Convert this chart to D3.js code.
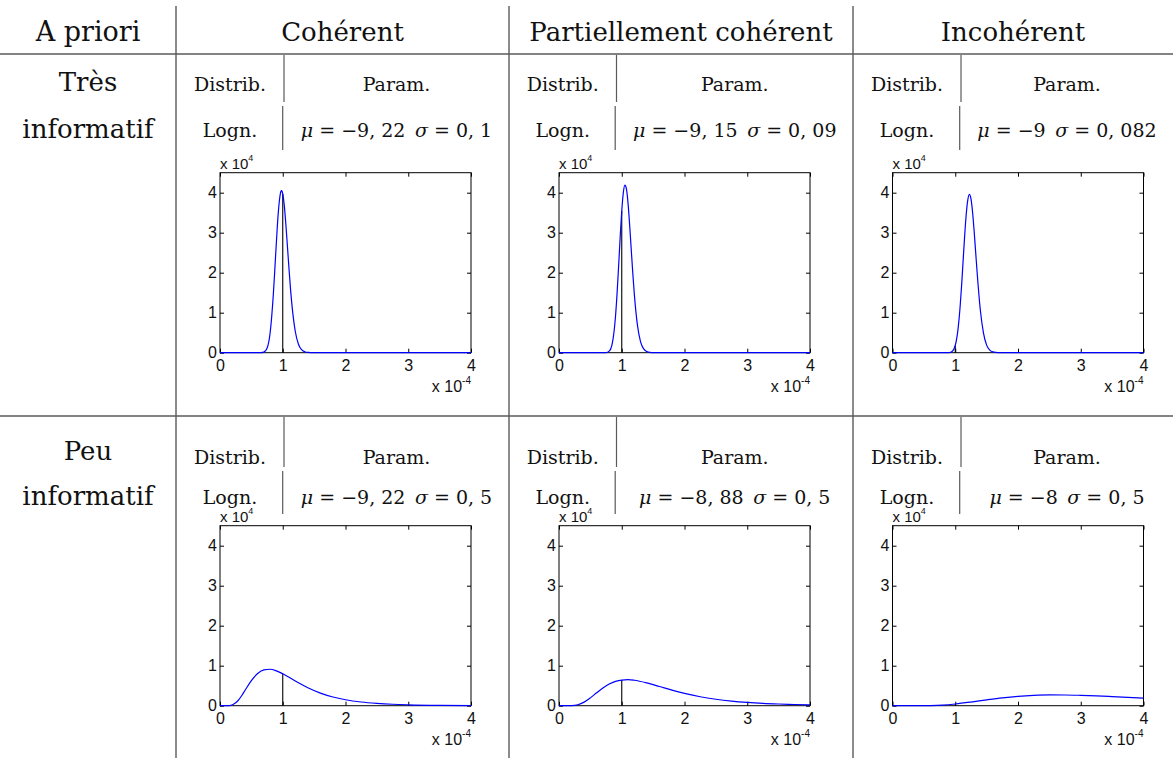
<!DOCTYPE html>
<html>
<head>
<meta charset="utf-8">
<script src="https://cdnjs.cloudflare.com/ajax/libs/d3/7.8.5/d3.min.js"></script>
<style>
	body { margin: 0; background: #fff; }
	svg { display: block; }
	.serif { font-family: "DejaVu Serif", serif; fill: #111; }
	.tick text { font-family: "Liberation Sans", Arial, sans-serif; font-size: 16px; fill: #111; }
</style>
</head>
<body>
<svg id="chart" width="1173" height="758"></svg>
<script>
// table texts
var cornerTitle = "A priori";
var colTitles = ["Cohérent", "Partiellement cohérent", "Incohérent"];
var rowTitles = [["Très", "informatif"], ["Peu", "informatif"]];
var distribLabel = "Logn.";
var muVals = [[-9.22, -9.15, -9], [-9.22, -8.88, -8]];
var sigmaVals = [[0.1, 0.09, 0.082], [0.5, 0.5, 0.5]];

// axes: x in units of 1e-4, density in units of 1e4
var xTicks = [0, 1, 2, 3, 4];
var yTicks = [0, 1, 2, 3, 4];
var trueX = 1;
var trueHeights = [[3.97, 3.54, 0.18], [0.80, 0.64, 0.04]];

// density curves [x, y]
var curveTresCoh = [[0,0],[0.6,0],[0.65,0.001],[0.7,0.014],[0.75,0.11],[0.8,0.51],[0.85,1.46],[0.875,2.12],[0.9,2.80],[0.925,3.42],[0.95,3.85],[0.97,4.03],[0.98,4.05],[0.99,4.03],[1.0,3.97],[1.025,3.67],[1.05,3.20],[1.075,2.65],[1.1,2.09],[1.125,1.57],[1.15,1.14],[1.2,0.53],[1.25,0.21],[1.3,0.076],[1.35,0.024],[1.4,0.007],[1.5,0],[4,0]];
var curveTresPart = [[0,0],[0.7,0],[0.75,0.003],[0.8,0.039],[0.85,0.24],[0.9,0.90],[0.925,1.47],[0.95,2.16],[0.975,2.89],[1.0,3.54],[1.025,4.00],[1.05,4.19],[1.075,4.09],[1.1,3.74],[1.125,3.21],[1.15,2.61],[1.175,2.01],[1.2,1.47],[1.25,0.69],[1.3,0.27],[1.35,0.095],[1.4,0.029],[1.45,0.008],[1.5,0.002],[1.6,0],[4,0]];
var curveTresInc = [[0,0],[0.85,0],[0.9,0.003],[0.95,0.032],[1.0,0.18],[1.05,0.67],[1.075,1.10],[1.1,1.65],[1.125,2.29],[1.15,2.92],[1.175,3.46],[1.2,3.82],[1.225,3.96],[1.25,3.85],[1.275,3.53],[1.3,3.06],[1.325,2.52],[1.35,1.98],[1.4,1.06],[1.45,0.49],[1.5,0.19],[1.55,0.066],[1.6,0.020],[1.65,0.006],[1.7,0.001],[1.8,0],[4,0]];
var curvePeuCoh = [[0,0],[0.05,0],[0.1,0.0002],[0.15,0.004],[0.2,0.024],[0.25,0.072],[0.3,0.153],[0.35,0.262],[0.4,0.385],[0.5,0.627],[0.6,0.805],[0.7,0.896],[0.8,0.911],[0.9,0.870],[1.0,0.798],[1.2,0.618],[1.4,0.449],[1.6,0.315],[1.8,0.217],[2.0,0.149],[2.25,0.092],[2.5,0.058],[2.75,0.036],[3.0,0.023],[3.5,0.009],[4.0,0.004]];
var curvePeuPart = [[0,0],[0.1,0],[0.2,0.002],[0.3,0.024],[0.4,0.089],[0.5,0.196],[0.6,0.323],[0.7,0.444],[0.8,0.541],[0.9,0.607],[1.0,0.641],[1.1,0.650],[1.2,0.636],[1.4,0.570],[1.6,0.480],[1.8,0.388],[2.0,0.307],[2.25,0.223],[2.5,0.161],[2.75,0.115],[3.0,0.082],[3.25,0.058],[3.5,0.042],[3.75,0.030],[4.0,0.021]];
var curvePeuInc = [[0,0],[0.2,0],[0.4,0.0002],[0.6,0.004],[0.8,0.016],[1.0,0.043],[1.25,0.091],[1.5,0.146],[1.75,0.196],[2.0,0.234],[2.25,0.258],[2.5,0.269],[2.75,0.268],[3.0,0.259],[3.25,0.245],[3.5,0.227],[3.75,0.208],[4.0,0.188]];

var curves = [[curveTresCoh, curveTresPart, curveTresInc], [curvePeuCoh, curvePeuPart, curvePeuInc]];

// layout
var W = 1173, H = 758;
var colLines = [176, 509, 853];
var subLines = [284, 616.5, 961];
var plotLeft = [220, 559, 892.5];
var plotW = 251, plotH = 180;
var headerRule = 54, rowRule = 416;
var lineColor = "#5a5a5a";
var sansFont = "'Liberation Sans', Arial, sans-serif";
var rows = [
	{ title1: 91, title2: 138, sub1: 91, sub2: 137, segA: [55, 102], segB: [106, 150], plotTop: 172.7 },
	{ title1: 460, title2: 505, sub1: 464, sub2: 504, segA: [417, 467], segB: [471, 514], plotTop: 525.7 }
];

var svg = d3.select("#chart");

function fmt(v) {
	return (v < 0 ? "\u2212" : "") + String(Math.abs(v)).replace(".", ", ");
}

// table rules
svg.selectAll("line.hrule")
	.data([headerRule, rowRule])
  .enter().append("line")
	.attr("x1", 0).attr("x2", W)
	.attr("y1", function(d) { return d; }).attr("y2", function(d) { return d; })
	.attr("stroke", lineColor).attr("stroke-width", 1.4);
svg.selectAll("line.vrule")
	.data(colLines)
  .enter().append("line")
	.attr("x1", function(d) { return d; }).attr("x2", function(d) { return d; })
	.attr("y1", 6).attr("y2", H)
	.attr("stroke", lineColor).attr("stroke-width", 1.4);

// header row
svg.append("text").attr("class", "serif")
	.attr("x", colLines[0] / 2).attr("y", 41)
	.attr("text-anchor", "middle").style("font-size", "27px")
	.text(cornerTitle);
colTitles.forEach(function(t, c) {
	var x0 = colLines[c], x1 = c < 2 ? colLines[c + 1] : W;
	svg.append("text").attr("class", "serif")
		.attr("x", (x0 + x1) / 2).attr("y", 41)
		.attr("text-anchor", "middle").style("font-size", "26px")
		.text(t);
});

rows.forEach(function(row, r) {
	// row title
	svg.append("text").attr("class", "serif")
		.attr("x", colLines[0] / 2).attr("y", row.title1)
		.attr("text-anchor", "middle").style("font-size", "26px")
		.text(rowTitles[r][0]);
	svg.append("text").attr("class", "serif")
		.attr("x", colLines[0] / 2).attr("y", row.title2)
		.attr("text-anchor", "middle").style("font-size", "26px")
		.text(rowTitles[r][1]);

	colTitles.forEach(function(t, c) {
		var x0 = colLines[c], x1 = c < 2 ? colLines[c + 1] : W, xs = subLines[c];

		// inner table
		svg.append("line")
			.attr("x1", xs).attr("x2", xs).attr("y1", row.segA[0]).attr("y2", row.segA[1])
			.attr("stroke", lineColor).attr("stroke-width", 1.2);
		svg.append("line")
			.attr("x1", xs - 1.3).attr("x2", xs - 1.3).attr("y1", row.segB[0]).attr("y2", row.segB[1])
			.attr("stroke", lineColor).attr("stroke-width", 1.2);
		svg.append("text").attr("class", "serif")
			.attr("x", (x0 + xs) / 2).attr("y", row.sub1)
			.attr("text-anchor", "middle").style("font-size", "19px")
			.text("Distrib.");
		svg.append("text").attr("class", "serif")
			.attr("x", (xs + x1) / 2).attr("y", row.sub1)
			.attr("text-anchor", "middle").style("font-size", "19px")
			.text("Param.");
		svg.append("text").attr("class", "serif")
			.attr("x", (x0 + xs) / 2).attr("y", row.sub2)
			.attr("text-anchor", "middle").style("font-size", "19px")
			.text(distribLabel);
		var par = svg.append("text").attr("class", "serif")
			.attr("x", (xs + x1) / 2).attr("y", row.sub2)
			.attr("text-anchor", "middle").style("font-size", "19px");
		par.append("tspan").style("font-style", "italic").text("\u03bc");
		par.append("tspan").text(" = " + fmt(muVals[r][c]) + "\u2002");
		par.append("tspan").style("font-style", "italic").text("\u03c3");
		par.append("tspan").text(" = " + fmt(sigmaVals[r][c]));

		// plot
		var x = d3.scaleLinear().domain([0, 4]).range([plotLeft[c], plotLeft[c] + plotW]);
		var y = d3.scaleLinear().domain([0, 4.5]).range([row.plotTop + plotH, row.plotTop]);
		var g = svg.append("g");

		g.append("g")
			.attr("transform", "translate(0," + (row.plotTop + plotH) + ")")
			.call(d3.axisBottom(x).tickValues(xTicks).tickSize(-4).tickPadding(6.5).tickFormat(d3.format("d")));
		g.append("g")
			.attr("transform", "translate(0," + row.plotTop + ")")
			.call(d3.axisTop(x).tickValues(xTicks).tickSize(-4).tickFormat(""));
		g.append("g")
			.attr("transform", "translate(" + plotLeft[c] + ",0)")
			.call(d3.axisLeft(y).tickValues(yTicks).tickSize(-4).tickPadding(3).tickFormat(d3.format("d")));
		g.append("g")
			.attr("transform", "translate(" + (plotLeft[c] + plotW) + ",0)")
			.call(d3.axisRight(y).tickValues(yTicks).tickSize(-4).tickFormat(""));
		g.selectAll(".domain").remove();
		g.selectAll(".tick line").attr("stroke", "#000");

		g.append("rect")
			.attr("x", plotLeft[c]).attr("y", row.plotTop)
			.attr("width", plotW).attr("height", plotH)
			.attr("fill", "none").attr("stroke", "#000").attr("stroke-width", 1);

		// true value marker
		g.append("line")
			.attr("x1", x(trueX)).attr("x2", x(trueX))
			.attr("y1", y(0)).attr("y2", y(trueHeights[r][c]))
			.attr("stroke", "#000").attr("stroke-width", 1.1);

		var line = d3.line()
			.x(function(d) { return x(d[0]); })
			.y(function(d) { return y(d[1]); })
			.curve(d3.curveMonotoneX);
		g.append("path")
			.attr("d", line(curves[r][c]))
			.attr("fill", "none")
			.attr("stroke", "#0000ff")
			.attr("stroke-width", 1.2);

		// exponent labels
		var top = g.append("text")
			.attr("x", plotLeft[c]).attr("y", row.plotTop - 4)
			.style("font-family", sansFont).style("font-size", "15px").attr("fill", "#111");
		top.append("tspan").text("x 10");
		top.append("tspan").attr("dy", -8).style("font-size", "9px").text("4");
		var bot = g.append("text")
			.attr("x", plotLeft[c] + plotW).attr("y", row.plotTop + plotH + 39.5)
			.attr("text-anchor", "end")
			.style("font-family", sansFont).style("font-size", "16px").attr("fill", "#111");
		bot.append("tspan").text("x 10");
		bot.append("tspan").attr("dy", -8).style("font-size", "10px").text("-4");
	});
});
</script>
</body>
</html>
